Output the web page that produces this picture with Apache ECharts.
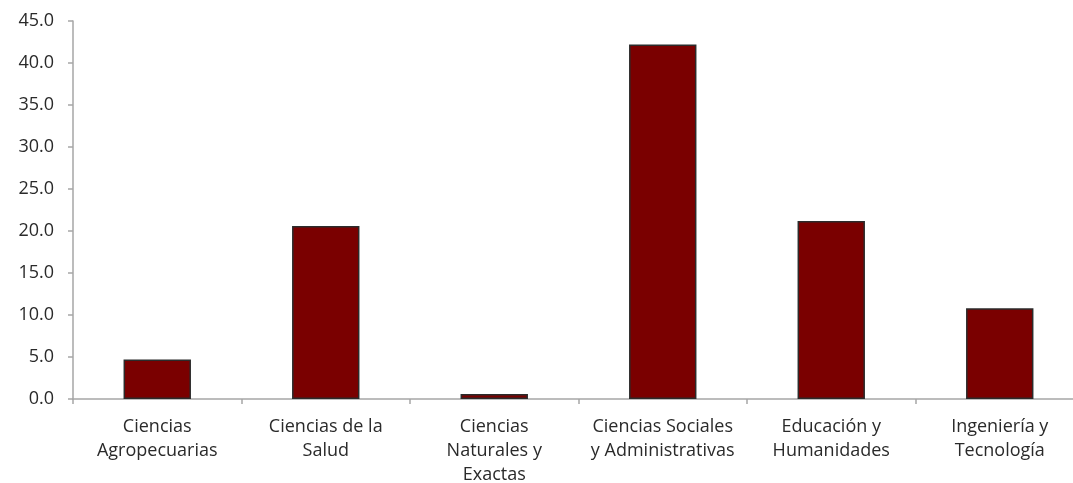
<!DOCTYPE html>
<html>
<head>
<meta charset="utf-8">
<script src="https://cdn.jsdelivr.net/npm/echarts@6/dist/echarts.min.js"></script>
<style>html,body{margin:0;padding:0;background:#fff}#c{width:1073px;height:483px}</style>
</head>
<body>
<div id="c"></div>
<script>
var categories = ["Ciencias\nAgropecuarias", "Ciencias de la\nSalud", "Ciencias\nNaturales y\nExactas", "Ciencias Sociales\ny Administrativas", "Educación y\nHumanidades", "Ingeniería y\nTecnología"];
var values = [4.7, 20.6, 0.6, 42.2, 21.2, 10.8];
var yTicks = [0, 5, 10, 15, 20, 25, 30, 35, 40, 45];

var chart = echarts.init(document.getElementById('c'));
chart.setOption({
  animation: false,
  grid: {left: 73, width: 1011, top: 21, bottom: 84, containLabel: false, outerBoundsMode: 'none'},
  xAxis: {
    type: 'category',
    data: categories,
    boundaryGap: true,
    axisLine: {lineStyle: {color: '#a6a6a6', width: 1.5}},
    axisTick: {show: true, length: 5, lineStyle: {color: '#a6a6a6', width: 1.5}},
    axisLabel: {interval: 0, color: '#2a2a2a', fontFamily: 'Open Sans', fontSize: 18, lineHeight: 24, margin: 16}
  },
  yAxis: {
    type: 'value',
    min: yTicks[0],
    max: yTicks[yTicks.length - 1],
    interval: 5,
    axisLine: {show: true, lineStyle: {color: '#a6a6a6', width: 1.5}},
    axisTick: {show: true, length: 5, lineStyle: {color: '#a6a6a6', width: 1.5}},
    splitLine: {show: false},
    axisLabel: {color: '#2a2a2a', fontFamily: 'Open Sans', fontSize: 18, margin: 19,
      formatter: function (v) { return v.toFixed(1); }}
  },
  series: [{
    type: 'bar',
    data: values,
    barWidth: '40%',
    itemStyle: {color: '#7a0000', borderColor: '#2b2b2b', borderWidth: 1.5}
  }]
});
</script>
</body>
</html>
